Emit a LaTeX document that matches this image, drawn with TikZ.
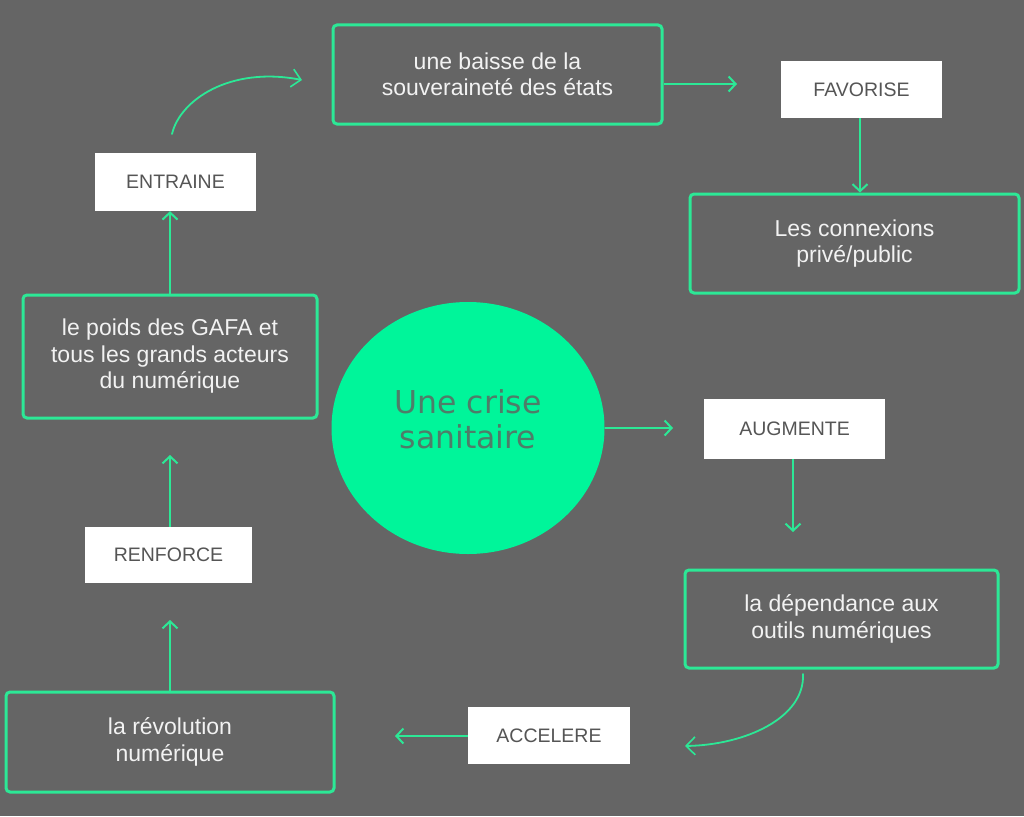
\documentclass[tikz,border=0pt]{standalone}
\usepackage{fontspec}
\setmainfont{Liberation Sans}
\newfontfamily\circfont{DejaVu Sans}
\usetikzlibrary{arrows.meta,shapes.geometric}
\definecolor{bg}{HTML}{656565}
\definecolor{grn}{HTML}{2CE896}
\definecolor{circ}{HTML}{00F59A}
\definecolor{circtxt}{HTML}{4E7D69}
\definecolor{lbltxt}{HTML}{555555}
\definecolor{boxtxt}{HTML}{F2F2F2}
\tikzset{
  box/.style={draw=grn, line width=3pt, rounded corners=4pt, text=boxtxt,
    align=center, font=\fontsize{23}{26.5}\selectfont, inner sep=0pt},
  lbl/.style={fill=white, text=lbltxt, font=\fontsize{19.5}{22}\selectfont, inner sep=0pt},
  arr/.style={draw=grn, line width=2pt, -{Straight Barb[length=7pt,width=15pt,line width=2pt]}},
  curvearr/.style={draw=grn, line width=1.8pt, line cap=round, -{Straight Barb[length=9pt,width=18pt,line width=1.6pt]}}
}
\begin{document}
\begin{tikzpicture}[x=1pt,y=-1pt]
\fill[bg] (0,0) rectangle (1024,816);
\useasboundingbox (0,0) rectangle (1024,816);

% central circle
\node[ellipse, fill=circ, minimum width=273, minimum height=252, inner sep=0pt,
  label={[text=circtxt, align=center, yshift=9pt, font=\circfont\fontsize{31.5}{35}\selectfont]center:{Une crise\\sanitaire}}]
  (crise) at (468,428) {};

% boxes
\node[box, minimum width=329, minimum height=99] (b1) at (497.5,74.5) {une baisse de la\\souveraineté des états};
\node[box, minimum width=329, minimum height=99] (b2) at (854.5,243.5) {Les connexions\\privé/public};
\node[box, minimum width=294, minimum height=123] (gafa) at (170,356.5) {le poids des GAFA et\\tous les grands acteurs\\du numérique};
\node[box, minimum width=313, minimum height=98] (dep) at (841.5,619) {la dépendance aux\\ outils numériques};
\node[box, minimum width=328, minimum height=100] (rev) at (170,742) {la révolution\\numérique};

% labels
\node[lbl, minimum width=161, minimum height=57] (fav) at (861.5,89.5) {FAVORISE};
\node[lbl, minimum width=161, minimum height=58] (ent) at (175.5,182) {ENTRAINE};
\node[lbl, minimum width=167, minimum height=56] (ren) at (168.5,555) {RENFORCE};
\node[lbl, minimum width=181, minimum height=60] (aug) at (794.5,429) {AUGMENTE};
\node[lbl, minimum width=162, minimum height=57] (acc) at (549,735.5) {ACCELERE};

% end coordinates
\coordinate (e1) at (737,84);
\coordinate (e2) at (673,428);
\coordinate (e3) at (793,532);
\coordinate (e4) at (395,736);
\coordinate (e5) at (170,620);
\coordinate (e6) at (170,455);
\coordinate (x860) at (860,0);
\coordinate (c1s) at (172,134);
\coordinate (c1e) at (302,80);
\coordinate (c2s) at (803,674);
\coordinate (c2e) at (685,746);

% connectors
\draw[arr] (b1.east |- e1) -- (e1);
\draw[arr] (fav.south -| x860) -- (b2.north -| x860);
\draw[arr] (crise.east |- e2) -- (e2);
\draw[arr] (aug.south -| e3) -- (e3);
\draw[arr] (acc.west |- e4) -- (e4);
\draw[arr] (rev.north -| e5) -- (e5);
\draw[arr] (ren.north -| e6) -- (e6);
\draw[arr] (gafa.north) -- (gafa.north |- ent.south);
\draw[curvearr] (c1s) .. controls (180,100) and (230,66) .. (c1e);
\draw[curvearr] (c2s) .. controls (805,718) and (745,745) .. (c2e);
\end{tikzpicture}
\end{document}
